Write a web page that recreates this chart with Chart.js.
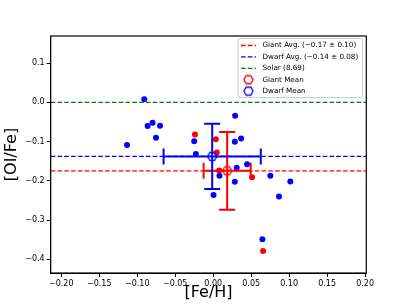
<!DOCTYPE html>
<html>
<head>
<meta charset="utf-8">
<script src="https://cdn.jsdelivr.net/npm/chart.js@4"></script>
<style>
  html, body { margin: 0; padding: 0; background: #fff; }
  #wrap { width: 407px; height: 305px; }
</style>
</head>
<body>
<div id="wrap"><canvas id="c"></canvas></div>
<script>
// [OI/Fe] vs [Fe/H] for dwarfs and giants, with group means and averages.
const dwarfFeH = [-0.0907, -0.1134, -0.0863, -0.0798, -0.0700, -0.0753, -0.0250, -0.0228, 0.0004, 0.0083,
                  0.0289, 0.0285, 0.0368, 0.0310, 0.0447, 0.0285, 0.0753, 0.1016, 0.0867, 0.0648];
const dwarfOFe = [0.0080, -0.1090, -0.0605, -0.0520, -0.0597, -0.0900, -0.0995, -0.1320, -0.2365, -0.1870,
                  -0.0340, -0.1005, -0.0920, -0.1670, -0.1580, -0.2025, -0.1870, -0.2016, -0.2400, -0.3490];
const giantFeH = [-0.0240, 0.0035, 0.0048, 0.0079, 0.0512, 0.0657];
const giantOFe = [-0.0820, -0.0940, -0.1280, -0.1735, -0.1910, -0.3790];

const giantMean = [0.0184, -0.1745];   // [Fe/H], [OI/Fe]
const giantErr = [0.031, 0.099];
const dwarfMean = [-0.0013, -0.1378];
const dwarfErr = [0.064, 0.083];
const giantAvg = -0.1745;
const dwarfAvg = -0.1378;
const solarLevel = 0.0;

const xLimits = [-0.2139, 0.2016];
const yLimits = [-0.435, 0.169];
const xTicks = [-0.20, -0.15, -0.10, -0.05, 0.00, 0.05, 0.10, 0.15, 0.20];
const yTicks = [0.1, 0.0, -0.1, -0.2, -0.3, -0.4];

const legendLabels = ["Giant Avg. (\u22120.17 \u00b1 0.10)", "Dwarf Avg. (\u22120.14 \u00b1 0.08)",
                      "Solar (8.69)", "Giant Mean", "Dwarf Mean"];

const RED = "#ff0000", BLUE = "#0000ff", GREEN = "#008000";
const FONT = "'DejaVu Sans', sans-serif";
const DASH = [4.6, 2.2];

const fmt = (v, d) => Number(v).toFixed(d).replace("-", "\u2212");
const pts = (xs, ys) => xs.map((x, i) => ({ x, y: ys[i] }));
const hline = (y) => [{ x: xLimits[0], y }, { x: xLimits[1], y }];

function hexImage(color) {
  const c = document.createElement("canvas");
  c.width = 13; c.height = 13;
  const g = c.getContext("2d");
  g.strokeStyle = color;
  g.lineWidth = 1.3;
  g.beginPath();
  for (let i = 0; i < 6; i++) {
    const a = (Math.PI / 3) * i;
    const px = 6.5 + 4.6 * Math.cos(a), py = 6.5 + 4.6 * Math.sin(a);
    if (i) g.lineTo(px, py); else g.moveTo(px, py);
  }
  g.closePath();
  g.stroke();
  return c;
}
const giantHex = hexImage(RED), dwarfHex = hexImage(BLUE);

// error bars go between the scatter points and the mean markers
const errorBars = {
  id: "errorBars",
  afterDatasetDraw(chart, args) {
    if (args.index !== 2) return;
    const { ctx, scales: { x, y } } = chart;
    const cap = 8;
    ctx.save();
    ctx.lineWidth = 2;
    for (const [m, e, col] of [[giantMean, giantErr, RED], [dwarfMean, dwarfErr, BLUE]]) {
      const cx = x.getPixelForValue(m[0]), cy = y.getPixelForValue(m[1]);
      const x0 = x.getPixelForValue(m[0] - e[0]), x1 = x.getPixelForValue(m[0] + e[0]);
      const y0 = y.getPixelForValue(m[1] + e[1]), y1 = y.getPixelForValue(m[1] - e[1]);
      ctx.strokeStyle = col;
      ctx.beginPath();
      ctx.moveTo(x0, cy); ctx.lineTo(x1, cy);
      ctx.moveTo(cx, y0); ctx.lineTo(cx, y1);
      ctx.moveTo(x0, cy - cap); ctx.lineTo(x0, cy + cap);
      ctx.moveTo(x1, cy - cap); ctx.lineTo(x1, cy + cap);
      ctx.moveTo(cx - cap, y0); ctx.lineTo(cx + cap, y0);
      ctx.moveTo(cx - cap, y1); ctx.lineTo(cx + cap, y1);
      ctx.stroke();
    }
    ctx.restore();
  },
};

// matplotlib-style frame and legend box
const frameAndLegend = {
  id: "frameAndLegend",
  afterDraw(chart) {
    const { ctx, chartArea: a } = chart;
    ctx.save();
    ctx.setLineDash([]);
    ctx.strokeStyle = "#000";
    ctx.lineWidth = 1.2;
    ctx.strokeRect(a.left, a.top, a.right - a.left, a.bottom - a.top);

    const bx = 238, by = 38.5, bw = 124.5, bh = 59;
    ctx.fillStyle = "rgba(255,255,255,0.85)";
    ctx.strokeStyle = "#cccccc";
    ctx.lineWidth = 1;
    ctx.beginPath();
    ctx.roundRect(bx, by, bw, bh, 2);
    ctx.fill();
    ctx.stroke();

    const styles = [
      { color: RED }, { color: BLUE }, { color: GREEN },
      { hex: giantHex }, { hex: dwarfHex },
    ];
    ctx.font = "7.2px " + FONT;
    ctx.textBaseline = "middle";
    legendLabels.forEach((label, i) => {
      const ry = 45.5 + i * 11.4;
      const s = styles[i];
      if (s.hex) {
        ctx.drawImage(s.hex, 248.5 - 6.5, ry - 6.5);
      } else {
        ctx.strokeStyle = s.color;
        ctx.lineWidth = 1.3;
        ctx.setLineDash(DASH);
        ctx.beginPath();
        ctx.moveTo(241, ry); ctx.lineTo(256, ry);
        ctx.stroke();
        ctx.setLineDash([]);
      }
      ctx.fillStyle = "#000";
      ctx.fillText(label, 262.5, ry);
    });
    ctx.restore();
  },
};

const lineSet = (data, color) => ({
  type: "line", data, borderColor: color, borderWidth: 1.3, borderDash: DASH,
  pointRadius: 0, fill: false, showLine: true,
});

new Chart(document.getElementById("c"), {
  type: "scatter",
  data: {
    // index 0 is drawn last (on top)
    datasets: [
      { data: [{ x: dwarfMean[0], y: dwarfMean[1] }], pointStyle: dwarfHex, pointRadius: 5 },
      { data: [{ x: giantMean[0], y: giantMean[1] }], pointStyle: giantHex, pointRadius: 5 },
      { data: pts(giantFeH, giantOFe), backgroundColor: RED, borderWidth: 0, pointRadius: 3 },
      { data: pts(dwarfFeH, dwarfOFe), backgroundColor: BLUE, borderWidth: 0, pointRadius: 3 },
      lineSet(hline(giantAvg), RED),
      lineSet(hline(dwarfAvg), BLUE),
      lineSet(hline(solarLevel), GREEN),
    ],
  },
  options: {
    responsive: true,
    maintainAspectRatio: false,
    animation: false,
    events: [],
    layout: { padding: { top: 36, right: 40.7, left: 0, bottom: 0 } },
    plugins: { legend: { display: false }, tooltip: { enabled: false } },
    scales: {
      x: {
        type: "linear", min: xLimits[0], max: xLimits[1],
        afterFit: (s) => { s.height = 32; },
        afterBuildTicks: (s) => { s.ticks = xTicks.map((v) => ({ value: v })); },
        ticks: { callback: (v) => fmt(v, 2), font: { family: FONT, size: 8 }, color: "#000",
                 padding: 2, maxRotation: 0, autoSkip: false },
        grid: { drawOnChartArea: false, tickLength: 4, tickColor: "#000" },
        border: { color: "#000" },
        title: { display: true, text: "[Fe/H]", font: { family: FONT, size: 16 }, color: "#000",
                 padding: { top: 0, bottom: 2.5 } },
      },
      y: {
        type: "linear", min: yLimits[0], max: yLimits[1],
        afterFit: (s) => { s.width = 50.7; },
        afterBuildTicks: (s) => { s.ticks = yTicks.map((v) => ({ value: v })); },
        ticks: { callback: (v) => fmt(v, 1), font: { family: FONT, size: 8 }, color: "#000",
                 padding: 2, autoSkip: false },
        grid: { drawOnChartArea: false, tickLength: 4, tickColor: "#000" },
        border: { color: "#000" },
        title: { display: true, text: "[OI/Fe]", font: { family: FONT, size: 16 }, color: "#000",
                 padding: { top: 2, bottom: 0 } },
      },
    },
  },
  plugins: [errorBars, frameAndLegend],
});
</script>
</body>
</html>
